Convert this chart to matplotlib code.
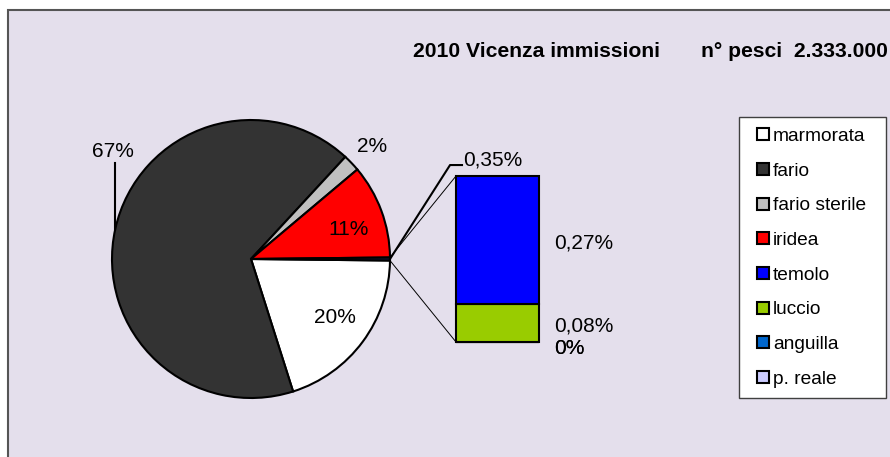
import matplotlib
matplotlib.use("Agg")
import matplotlib.pyplot as plt
import numpy as np
from matplotlib.patches import Rectangle, ConnectionPatch
from matplotlib.lines import Line2D

plt.rcParams['font.family'] = ['Liberation Sans', 'DejaVu Sans']

# data (percent of fish released)
pie_names = ["marmorata", "fario", "fario sterile", "iridea"]
pie_vals = [20, 67, 2, 11]
pie_cols = ["#FFFFFF", "#333333", "#C0C0C0", "#FF0000"]

bar_names = ["temolo", "luccio", "anguilla", "p. reale"]
bar_vals = [0.27, 0.08, 0, 0]
bar_cols = ["#0000FF", "#99CC00", "#0066CC", "#CCCCFF"]

title = "2010 Vicenza immissioni       n° pesci  2.333.000"

def fmt(v):
    if v == 0:
        return "0%"
    if v >= 1:
        return "%d%%" % round(v)
    return ("%.2f" % v).replace(".", ",") + "%"

W, H = 890, 457
CX, CY, R = 251, 198, 139

fig = plt.figure(figsize=(W / 100, H / 100), dpi=100)
fig.patch.set_facecolor("white")
fig.patches.append(Rectangle((8 / W, -0.1), 1.2, 1.1 - 10 / H, transform=fig.transFigure,
                             fc="#E4DFEC", ec="#555555", lw=1.5, zorder=-1))

ax = fig.add_axes([0, 0, 1, 1])
ax.patch.set_visible(False)

other = sum(bar_vals)
vals = pie_vals + [other]
start = -other / sum(vals) * 360 / 2
wedges, _ = ax.pie(vals, colors=pie_cols + ["#1A1A40"], startangle=start, counterclock=False,
                   center=(CX, CY), radius=R,
                   wedgeprops=dict(edgecolor="black", linewidth=1.5))
ax.set_xlim(0, W)
ax.set_ylim(0, H)
ax.set_aspect("equal")
ax.axis("off")

# label positions in radius units
lab_pos = [(0.604, -0.424), (-0.993, 0.770), (0.870, 0.806), (0.705, 0.209)]
for v, (ux, uy) in zip(pie_vals, lab_pos):
    ax.text(CX + R * ux, CY + R * uy, fmt(v), ha="center", va="center", fontsize=15)

# leader for fario
w = wedges[1]
mid = np.radians((w.theta1 + w.theta2) / 2)
ex, ey = CX + R * np.cos(mid), CY + R * np.sin(mid)
ax.plot([ex, ex], [ey, CY + R * 0.770 - 11], color="black", lw=1.5)

# other slice label + leader
w = wedges[-1]
mid = np.radians((w.theta1 + w.theta2) / 2)
ex, ey = CX + R * np.cos(mid), CY + R * np.sin(mid)
ax.plot([ex, CX + R * 1.432, CX + R * 1.518], [ey, CY + R * 0.676, CY + R * 0.676],
        color="black", lw=1.5)
ax.text(CX + R * 1.525, CY + R * 0.712, fmt(other), ha="left", va="center", fontsize=15)

# bar of the small species
bax = fig.add_axes([456 / W, (H - 342) / H, 83 / W, 166 / H])
bax.set_xlim(-0.5, 0.5)
bax.set_ylim(0, other)
bax.axis("off")
bottom = 0
for name, v, c in list(zip(bar_names, bar_vals, bar_cols))[::-1]:
    bax.bar(0, v, width=1, bottom=bottom, color=c, edgecolor="black", linewidth=1.5, clip_on=False)
    dy = -6 if v == 0 else -3
    bax.annotate(fmt(v), xy=(0.5, bottom + v / 2), xytext=(15, dy), textcoords="offset pixels",
                 ha="left", va="center", fontsize=15)
    bottom += v

t1, t2 = np.radians(w.theta1), np.radians(w.theta2)
for t, yb in [(t2, other), (t1, 0)]:
    con = ConnectionPatch(xyA=(CX + R * np.cos(t), CY + R * np.sin(t)), coordsA=ax.transData,
                          xyB=(-0.5, yb), coordsB=bax.transData, color="black", lw=0.7)
    fig.add_artist(con)

fig.text(888 / W, 1 - 57 / H, title, ha="right", va="baseline", fontsize=15.2, fontweight="bold")

handles = [Line2D([], [], ls="none", marker="s", markersize=8.6, mfc=c, mec="black", mew=1.5)
           for c in pie_cols + bar_cols]
leg = fig.legend(handles, pie_names + bar_names, loc="upper left", mode="expand",
                 bbox_to_anchor=(739 / W, 1 - 117 / H - 0.01, 147 / W, 0.01), borderaxespad=0,
                 fontsize=13.8, borderpad=0.55, handlelength=1.4, handletextpad=-0.18,
                 labelspacing=0.9, fancybox=False, framealpha=1)
leg.get_frame().set_edgecolor("#404040")
leg.get_frame().set_linewidth(1.0)

fig.savefig("out.png", dpi=100)
